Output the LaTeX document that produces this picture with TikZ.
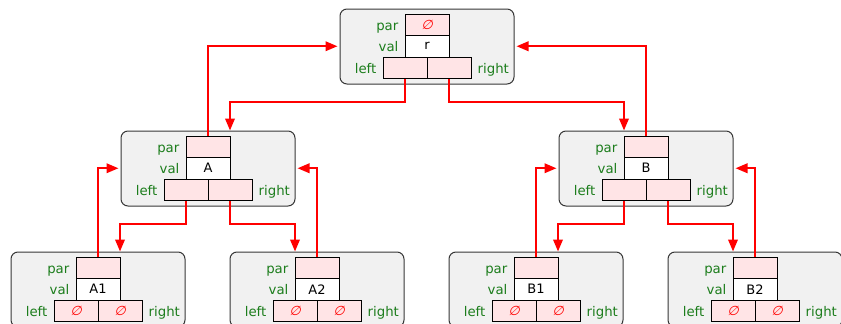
\documentclass[tikz,border=0pt]{standalone}
\usepackage{fontspec}
\setmainfont{DejaVu Sans}
\newfontfamily\nilfont[FakeSlant=0.25]{DejaVu Sans}
\usetikzlibrary{arrows.meta,calc}
\definecolor{lblgreen}{RGB}{28,125,28}
\definecolor{cellpink}{RGB}{255,228,230}
\definecolor{boxgray}{RGB}{241,241,241}
\definecolor{boxedge}{RGB}{55,55,55}
\tikzset{
  recbox/.style={draw=boxedge, fill=boxgray, rounded corners=7pt, line width=1pt,
    minimum width=174pt, minimum height=75pt, inner sep=0pt},
  cellbox/.style={draw=black, line width=0.9pt, minimum width=44pt, minimum height=21.5pt,
    inner sep=0pt, font=\fontsize{13}{15}\selectfont},
  pinkcell/.style={cellbox, fill=cellpink},
  whitecell/.style={cellbox, fill=white},
  fieldlbl/.style={text=lblgreen, inner sep=0pt, font=\fontsize{13.3}{15}\selectfont},
  ptr/.style={draw=red, line width=2pt, -{Triangle[length=12pt,width=9.5pt]}},
}
\newcommand\nilsym{{\nilfont\color{red}∅}}
\newcommand\treerec[7]{%
  \node[recbox] (#1-box) at (#2, #3+32.5) {};
  \node[pinkcell] (#1-par) at (#2, #3+10.75) {#7};
  \node[whitecell] (#1-val) at (#2, #3+32.25) {#4};
  \node[pinkcell] (#1-left) at (#2-22, #3+53.75) {#5};
  \node[pinkcell] (#1-right) at (#2+22, #3+53.75) {#6};
  \node[fieldlbl, anchor=base east] (#1-lpar) at ([xshift=-6pt,yshift=5.5pt]#1-par.south west) {par};
  \node[fieldlbl, anchor=base east] (#1-lval) at ([xshift=-6pt,yshift=5.5pt]#1-val.south west) {val};
  \node[fieldlbl, anchor=base east] (#1-lleft) at ([xshift=-6pt,yshift=5.5pt]#1-left.south west) {left};
  \node[fieldlbl, anchor=base west] (#1-lright) at ([xshift=6pt,yshift=5.5pt]#1-right.south east) {right};
  \coordinate (#1-mid) at (#2, #3+88);
}
\begin{document}
\begin{tikzpicture}[x=1pt,y=-1pt]
\useasboundingbox (0,0) rectangle (841,324);
\clip (0,0) rectangle (841,324);
\treerec{r}{427}{14}{r}{}{}{\nilsym}
\treerec{a}{208}{136}{A}{}{}{}
\treerec{b}{646}{136}{B}{}{}{}
\treerec{aa}{98}{257}{A1}{\nilsym}{\nilsym}{}
\treerec{ab}{317}{257}{A2}{\nilsym}{\nilsym}{}
\treerec{ba}{536}{257}{B1}{\nilsym}{\nilsym}{}
\treerec{bb}{755}{257}{B2}{\nilsym}{\nilsym}{}
% child pointers
\draw[ptr] (r-left.south) -- (r-left.south |- r-mid) -| ([xshift=22pt]a-box.north);
\draw[ptr] (r-right.south) -- (r-right.south |- r-mid) -| ([xshift=-22pt]b-box.north);
\draw[ptr] (a-left.south) -- (a-left.south |- a-mid) -| ([xshift=22pt]aa-box.north);
\draw[ptr] (a-right.south) -- (a-right.south |- a-mid) -| ([xshift=-22pt]ab-box.north);
\draw[ptr] (b-left.south) -- (b-left.south |- b-mid) -| ([xshift=22pt]ba-box.north);
\draw[ptr] (b-right.south) -- (b-right.south |- b-mid) -| ([xshift=-22pt]bb-box.north);
% parent pointers
\draw[ptr, shorten >=2pt] (a-par.north) |- (r-box.west |- r-val.center);
\draw[ptr, shorten >=2pt] (b-par.north) |- (r-box.east |- r-val.center);
\draw[ptr, shorten >=2pt] (aa-par.north) |- (a-box.west |- a-val.center);
\draw[ptr, shorten >=2pt] (ab-par.north) |- (a-box.east |- a-val.center);
\draw[ptr, shorten >=2pt] (ba-par.north) |- (b-box.west |- b-val.center);
\draw[ptr, shorten >=2pt] (bb-par.north) |- (b-box.east |- b-val.center);
\end{tikzpicture}
\end{document}
